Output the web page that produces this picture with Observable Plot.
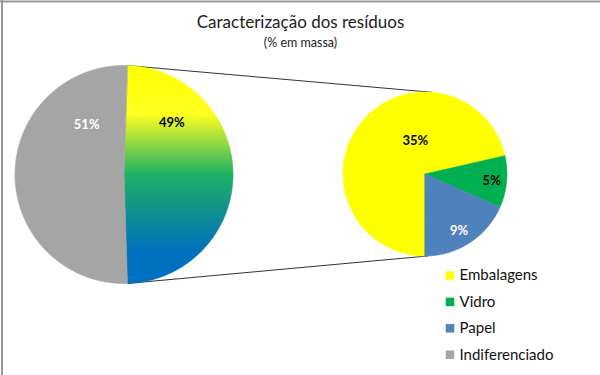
<!DOCTYPE html>
<html>
<head>
<meta charset="utf-8">
<script src="https://cdn.jsdelivr.net/npm/d3@7"></script>
<script src="https://cdn.jsdelivr.net/npm/@observablehq/plot@0.6"></script>
<style>
  html, body { margin: 0; padding: 0; background: #fff; }
  svg { display: block; font-family: Lato, "Open Sans", sans-serif; }
</style>
</head>
<body>
<div id="chart"></div>
<script>
// ---- data ----
const titleText = "Caracterização dos resíduos";
const subtitleText = "(% em massa)";
const categories = ["Embalagens", "Vidro", "Papel", "Indiferenciado"];
const values = [35, 5, 9, 51];
const otherLabel = "Outros";            // combined slice of the first pie
const splitCount = 3;                   // first 3 categories go into the second pie
const colors = ["#FFFF00", "#00B050", "#4F81BD", "#A5A5A5"];

// ---- layout ----
const W = 600, H = 375;
const pie1 = {cx: 123.5, cy: 174, r: 109};
const pie2 = {cx: 424.5, cy: 173.5, r: 82};
const rad = d => d * Math.PI / 180;
const pt = (p, a, r = p.r) => ({x: p.cx + r * Math.sin(rad(a)), y: p.cy - r * Math.cos(rad(a))});

const total = d3.sum(values);
const otherVal = d3.sum(values.slice(0, splitCount));

function arcPoly(p, a0, a1, key) {
  const pts = [{x: p.cx, y: p.cy, key}];
  const n = Math.max(2, Math.ceil((a1 - a0) / 0.5));
  for (let i = 0; i <= n; i++) {
    const q = pt(p, a0 + (a1 - a0) * i / n);
    pts.push({x: q.x, y: q.y, key});
  }
  return pts;
}

// main pie: combined slice centred on the right
const otherSpan = otherVal / total * 360;
const o0 = 90 - otherSpan / 2, o1 = 90 + otherSpan / 2;
const pie1Slices = [
  {key: otherLabel, a0: o0, a1: o1, value: otherVal},
  {key: categories[3], a0: o1, a1: o0 + 360, value: values[3]}
];
// second pie: starts at bottom, clockwise
let acc = 180;
const pie2Slices = categories.slice(0, splitCount).map((c, i) => {
  const span = values[i] / otherVal * 360;
  const s = {key: c, a0: acc, a1: acc + span, value: values[i]};
  acc += span;
  return s;
});

const polys = [
  ...pie1Slices.flatMap(s => arcPoly(pie1, s.a0, s.a1, s.key)),
  ...pie2Slices.flatMap(s => arcPoly(pie2, s.a0, s.a1, s.key))
];

// label placement (angle, radius) per slice
const labelPos1 = {[otherLabel]: [43, 70], "Indiferenciado": [-37, 62]};
const labelPos2 = {"Embalagens": [-16, 35], "Vidro": [95.5, 67], "Papel": [149, 66]};
const labelColor = {[otherLabel]: "#000", "Indiferenciado": "#fff", "Embalagens": "#000", "Vidro": "#000", "Papel": "#fff"};
const labels = [
  ...pie1Slices.map(s => ({...pt(pie1, labelPos1[s.key][0], labelPos1[s.key][1]), text: s.value + "%", key: s.key})),
  ...pie2Slices.map(s => ({...pt(pie2, labelPos2[s.key][0], labelPos2[s.key][1]), text: s.value + "%", key: s.key}))
];

// connector lines
const connectors = [
  {...pt(pie1, o0), g: "top"}, {...pt(pie2, 4.5), g: "top"},
  {...pt(pie1, o1), g: "bot"}, {...pt(pie2, 178), g: "bot"}
];

const legend = categories.map((c, i) => ({key: c, x: 449.5, y: 275 + i * 26.4}));

const svg = Plot.plot({
  width: W, height: H, margin: 0,
  x: {domain: [0, W], range: [0, W], axis: null},
  y: {domain: [0, H], range: [0, H], axis: null},
  color: {type: "ordinal", domain: [...categories, otherLabel], range: [...colors, "url(#grad)"]},
  style: {background: "#fff", overflow: "visible"},
  marks: [
    Plot.ruleY([0], {stroke: "#9a9a9a", strokeWidth: 2, dy: 1}),
    Plot.ruleX([0], {stroke: "#9a9a9a", strokeWidth: 2, dx: 1.5}),
    Plot.line(connectors, {x: "x", y: "y", z: "g", stroke: "#333", strokeWidth: 1}),
    Plot.line(polys, {x: "x", y: "y", z: "key", fill: "key", stroke: "key", strokeWidth: 0.6, curve: "linear-closed"}),
    Plot.text(labels, {x: "x", y: "y", text: "text", fill: d => labelColor[d.key], fontWeight: "bold", fontSize: 13}),
    Plot.text([titleText], {x: W / 2, y: 22, text: d => d, fontSize: 17, fill: "#222"}),
    Plot.text([subtitleText], {x: W / 2, y: 42, text: d => d, fontSize: 12.5, fill: "#222"}),
    Plot.dot(legend, {x: "x", y: "y", fill: "key", symbol: "square", r: 4.8}),
    Plot.text(legend, {x: d => d.x + 9.5, y: "y", text: "key", textAnchor: "start", fontSize: 15, fill: "#111"})
  ]
});

const defs = d3.select(svg).insert("defs", ":first-child");
const grad = defs.append("linearGradient").attr("id", "grad")
  .attr("x1", 0).attr("y1", 0).attr("x2", 0).attr("y2", 1);
[[0, "#FFFF00"], [0.22, "#FFFF20"], [0.5, "#1EB064"], [0.7, "#0E8A96"], [0.86, "#0070C0"], [1, "#0070C0"]]
  .forEach(([o, c]) => grad.append("stop").attr("offset", o).attr("stop-color", c));

document.getElementById("chart").appendChild(svg);
</script>
</body>
</html>
